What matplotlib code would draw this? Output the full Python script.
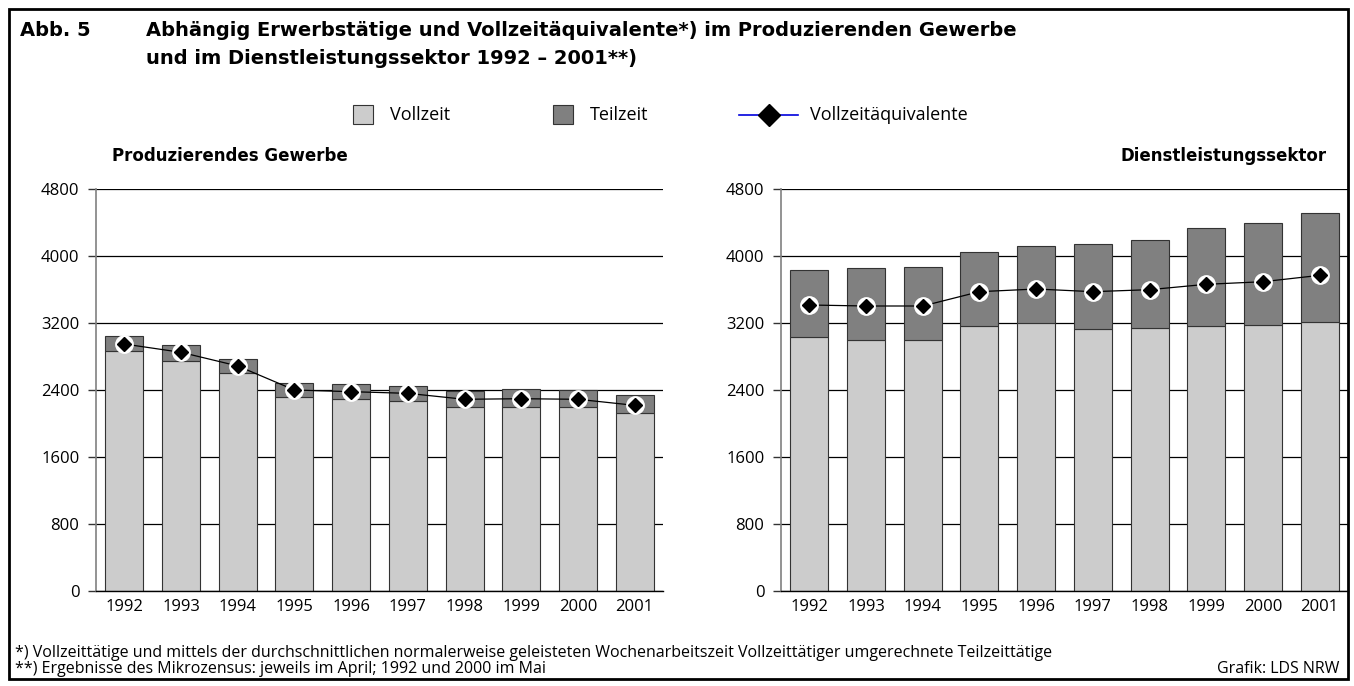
import numpy as np
import matplotlib
matplotlib.use("Agg")
import matplotlib.pyplot as plt
from matplotlib.patches import Rectangle
from matplotlib.lines import Line2D

plt.rcParams['font.family'] = ['Open Sans', 'DejaVu Sans']

# Daten (in 1000)
jahre = ['1992', '1993', '1994', '1995', '1996', '1997', '1998', '1999', '2000', '2001']

# Produzierendes Gewerbe
pg_vollzeit = [2866, 2750, 2599, 2313, 2296, 2272, 2200, 2200, 2193, 2121]
pg_gesamt = [3045, 2933, 2766, 2487, 2468, 2452, 2392, 2408, 2396, 2336]
pg_vzae = [2949, 2850, 2687, 2400, 2380, 2360, 2289, 2296, 2289, 2217]

# Dienstleistungssektor
dl_vollzeit = [3029, 2997, 2997, 3164, 3196, 3124, 3144, 3160, 3172, 3215]
dl_gesamt = [3836, 3853, 3869, 4044, 4119, 4139, 4191, 4338, 4390, 4517]
dl_vzae = [3415, 3403, 3403, 3574, 3606, 3574, 3598, 3662, 3693, 3769]

yticks = [0, 800, 1600, 2400, 3200, 4000, 4800]

W, H = 1354, 686
col_voll = '#cccccc'
col_teil = '#808080'
fett = ['DejaVu Sans']


def fx(x):
    return x / W


def fy(y):
    return 1 - y / H


fig = plt.figure(figsize=(W / 100, H / 100), dpi=100)


def panel(left_px, vollzeit, gesamt, vzae):
    ax = fig.add_axes([fx(left_px), fy(591), 567 / W, 402 / H])
    x = np.arange(len(jahre))
    teilzeit = np.array(gesamt) - np.array(vollzeit)
    ax.bar(x, vollzeit, width=0.67, color=col_voll, edgecolor='#333333', linewidth=0.8, zorder=2)
    ax.bar(x, teilzeit, bottom=vollzeit, width=0.67, color=col_teil, edgecolor='#333333',
           linewidth=0.8, zorder=2)
    ax.plot(x, vzae, color='black', linewidth=0.9, zorder=3)
    ax.plot(x, vzae, linestyle='none', marker='o', markersize=12.5, markerfacecolor='white',
            markeredgecolor='white', zorder=4)
    ax.plot(x, vzae, linestyle='none', marker='D', markersize=7.5, markerfacecolor='black',
            markeredgecolor='black', zorder=5)
    ax.set_xlim(-0.5, 9.5)
    ax.set_ylim(0, 4800)
    ax.set_yticks(yticks)
    ax.set_xticks(x)
    ax.set_xticklabels(jahre)
    ax.yaxis.grid(True, color='black', linewidth=0.9)
    ax.set_axisbelow(True)
    for s in ['top', 'right']:
        ax.spines[s].set_visible(False)
    ax.spines['left'].set_color('#808080')
    ax.spines['left'].set_linewidth(1.2)
    ax.spines['bottom'].set_color('black')
    ax.spines['bottom'].set_linewidth(1.0)
    ax.tick_params(axis='y', length=6, width=1, color='#333333', pad=6, labelsize=12)
    ax.tick_params(axis='x', length=0, pad=6, labelsize=12)
    return ax


ax1 = panel(96, pg_vollzeit, pg_gesamt, pg_vzae)
ax2 = panel(781, dl_vollzeit, dl_gesamt, dl_vzae)

# Rahmen
fig.patches.append(Rectangle((fx(9), fy(679)), (1348 - 9) / W, (679 - 9) / H,
                             transform=fig.transFigure, fill=False,
                             edgecolor='black', linewidth=2))

# Titel
fig.text(fx(20), fy(30), 'Abb. 5', fontsize=14, fontweight='bold', family=fett, va='center')
fig.text(fx(146), fy(30), 'Abhängig Erwerbstätige und Vollzeitäquivalente*) im Produzierenden Gewerbe',
         fontsize=14, fontweight='bold', family=fett, va='center')
fig.text(fx(146), fy(58), 'und im Dienstleistungssektor 1992 – 2001**)',
         fontsize=14, fontweight='bold', family=fett, va='center')

# Legende
fig.patches.append(Rectangle((fx(353), fy(124)), 20 / W, 19 / H, transform=fig.transFigure,
                             facecolor=col_voll, edgecolor='#333333', linewidth=0.8))
fig.text(fx(390), fy(115), 'Vollzeit', fontsize=13, va='center')
fig.patches.append(Rectangle((fx(553), fy(124)), 20 / W, 19 / H, transform=fig.transFigure,
                             facecolor=col_teil, edgecolor='#333333', linewidth=0.8))
fig.text(fx(590), fy(115), 'Teilzeit', fontsize=13, va='center')
fig.lines.append(Line2D([fx(739), fx(798)], [fy(115), fy(115)], transform=fig.transFigure,
                        color='#0000dd', linewidth=1.2))
fig.lines.append(Line2D([fx(769)], [fy(115)], transform=fig.transFigure, marker='D',
                        markersize=11, color='black', linestyle='none'))
fig.text(fx(810), fy(115), 'Vollzeitäquivalente', fontsize=13, va='center')

# Untertitel
fig.text(fx(112), fy(156), 'Produzierendes Gewerbe', fontsize=12, fontweight='bold',
         family=fett, va='center')
fig.text(fx(1327), fy(156), 'Dienstleistungssektor', fontsize=12, fontweight='bold',
         family=fett, va='center', ha='right')

# Fussnoten
fig.text(fx(15), fy(653), '*) Vollzeittätige und mittels der durchschnittlichen normalerweise geleisteten '
         'Wochenarbeitszeit Vollzeittätiger umgerechnete Teilzeittätige', fontsize=11.5, va='center')
fig.text(fx(15), fy(669), '**) Ergebnisse des Mikrozensus: jeweils im April; 1992 und 2000 im Mai',
         fontsize=11.5, va='center')
fig.text(fx(1339), fy(669), 'Grafik: LDS NRW', fontsize=11.5, va='center', ha='right')

fig.savefig('out.png', dpi=100)
